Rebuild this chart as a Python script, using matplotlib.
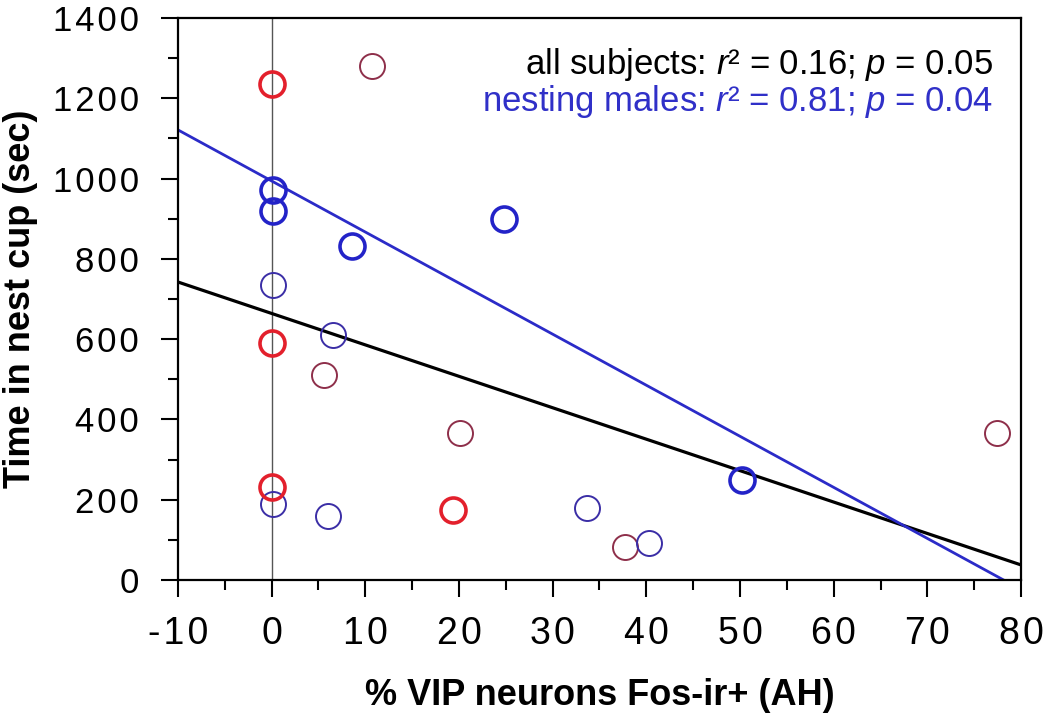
import numpy as np
import matplotlib
matplotlib.use('Agg')
import matplotlib.pyplot as plt
from matplotlib.ticker import MultipleLocator, FuncFormatter

# nesting males, strong (thick) circles
nest_thick_x = [0.1, 0.1, 8.6, 24.8, 50.2]
nest_thick_y = [971, 919, 832, 899, 249]
# nesting males, thin circles
nest_thin_x = [0.1, 6.5, 0.1, 6.0, 33.7, 40.3]
nest_thin_y = [735, 610, 189, 159, 179, 92]
# other males, thick red circles
other_thick_x = [0.0, 0.0, 0.0, 19.4]
other_thick_y = [1235, 590, 232, 174]
# other males, thin red circles
other_thin_x = [10.7, 5.6, 20.1, 37.7, 77.4]
other_thin_y = [1280, 511, 366, 82, 366]

# regression lines (slope, intercept)
fit_all = (-7.83, 664)
fit_nest = (-12.72, 994)

plt.rcParams['font.family'] = ['Liberation Sans', 'DejaVu Sans']
plt.rcParams['mathtext.fontset'] = 'custom'
plt.rcParams['mathtext.rm'] = 'Liberation Sans'
plt.rcParams['mathtext.it'] = 'Liberation Sans:italic'


def spaced(v, pos):
    # old-style letter spaced tick labels, plain hyphen for minus
    return '\u200a'.join('%d' % v)


fig = plt.figure(figsize=(10.5, 7.19), dpi=100)
ax = fig.add_axes([0.1695, 0.1933, 0.8029, 0.7817])

ax.axvline(0, color='#555555', lw=1.0, zorder=1)

xa = np.array([-10, 80])
ax.plot(xa, fit_all[0] * xa + fit_all[1], color='black', lw=2.3, zorder=2)
xn = np.array([-10, -fit_nest[1] / fit_nest[0]])
ax.plot(xn, fit_nest[0] * xn + fit_nest[1], color='#2b2bc8', lw=2.0, zorder=2)

ax.plot(other_thin_x, other_thin_y, 'o', ms=18, mfc='none', mec='#8e2f4a', mew=1.4, zorder=3)
ax.plot(nest_thin_x, nest_thin_y, 'o', ms=18, mfc='none', mec='#3b2ea6', mew=1.4, zorder=3)
ax.plot(other_thick_x, other_thick_y, 'o', ms=18, mfc='none', mec='#e3202c', mew=2.6, zorder=4)
ax.plot(nest_thick_x, nest_thick_y, 'o', ms=18, mfc='none', mec='#2323c8', mew=2.6, zorder=4)

ax.set_xlim(-10, 80)
ax.set_ylim(0, 1400)
ax.xaxis.set_major_locator(MultipleLocator(10))
ax.xaxis.set_minor_locator(MultipleLocator(5))
ax.yaxis.set_major_locator(MultipleLocator(200))
ax.yaxis.set_minor_locator(MultipleLocator(100))
ax.xaxis.set_major_formatter(FuncFormatter(spaced))
ax.yaxis.set_major_formatter(FuncFormatter(spaced))

for s in ax.spines.values():
    s.set_linewidth(1.6)

ax.tick_params(axis='both', which='major', direction='out', length=12, width=1.5)
ax.tick_params(axis='both', which='minor', direction='out', length=7, width=1.5)
ax.tick_params(axis='y', which='major', pad=16, labelsize=25)
ax.tick_params(axis='x', which='major', pad=14, labelsize=27)

ax.set_xlabel('% VIP neurons Fos-ir+ (AH)', fontsize=26, fontweight='bold')
ax.set_ylabel('Time in nest cup (sec)', fontsize=26, fontweight='bold')
ax.xaxis.set_label_coords(0.5, -0.205)
ax.xaxis.label.set_va('center')
ax.yaxis.set_label_coords(-0.187, 0.5)
ax.yaxis.label.set_va('center')

ax.text(0.967, 0.900, r'all subjects: $\mathit{r}$² = 0.16; $\mathit{p}$ = 0.05',
        transform=ax.transAxes, ha='right', va='baseline', fontsize=25, color='black')
ax.text(0.967, 0.8345, r'nesting males: $\mathit{r}$² = 0.81; $\mathit{p}$ = 0.04',
        transform=ax.transAxes, ha='right', va='baseline', fontsize=25, color='#3030c8')

fig.savefig('out.png', dpi=100)
